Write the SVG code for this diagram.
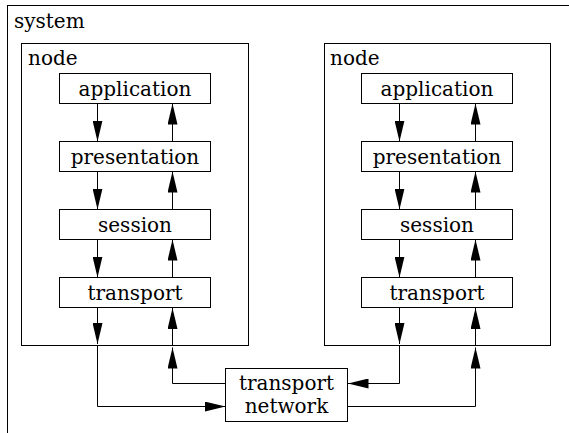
<svg xmlns="http://www.w3.org/2000/svg" width="569" height="433" viewBox="0 0 569 433">
<style>
.box{fill:#fff;stroke:#000;stroke-width:1}
.frame{fill:none;stroke:#000;stroke-width:1}
text{font-family:"DejaVu Serif",serif;font-size:20px;fill:#000}
.c{text-anchor:middle}
.e{fill:none;stroke:#000;stroke-width:1;marker-end:url(#ah)}
</style>
<defs>
<marker id="ah" viewBox="0 0 21 10" refX="21" refY="5" markerWidth="21" markerHeight="10" markerUnits="userSpaceOnUse" orient="auto">
<path d="M0,0 L21,5 L0,10 Z" fill="#000"/>
</marker>
</defs>
<rect width="569" height="433" fill="#fff"/>
<g id="system">
<rect class="frame" x="7.5" y="5.5" width="580" height="450"/>
<text x="14" y="28">system</text>
</g>
<g id="node-left">
<rect class="frame" x="21.5" y="43.5" width="227" height="302"/>
<text x="28" y="65">node</text>
</g>
<g id="node-right">
<rect class="frame" x="324.5" y="43.5" width="226" height="302"/>
<text x="330" y="65">node</text>
</g>
<g id="left-application"><rect class="box" x="59.5" y="73.5" width="151" height="30"/><text class="c" x="135" y="96">application</text></g>
<g id="left-presentation"><rect class="box" x="59.5" y="141.5" width="151" height="30"/><text class="c" x="135" y="164">presentation</text></g>
<g id="left-session"><rect class="box" x="59.5" y="209.5" width="151" height="30"/><text class="c" x="135" y="232">session</text></g>
<g id="left-transport"><rect class="box" x="59.5" y="277.5" width="151" height="30"/><text class="c" x="135" y="300">transport</text></g>
<g id="right-application"><rect class="box" x="361.5" y="73.5" width="151" height="30"/><text class="c" x="437" y="96">application</text></g>
<g id="right-presentation"><rect class="box" x="361.5" y="141.5" width="151" height="30"/><text class="c" x="437" y="164">presentation</text></g>
<g id="right-session"><rect class="box" x="361.5" y="209.5" width="151" height="30"/><text class="c" x="437" y="232">session</text></g>
<g id="right-transport"><rect class="box" x="361.5" y="277.5" width="151" height="30"/><text class="c" x="437" y="300">transport</text></g>
<g id="transport-network"><rect class="box" x="225.5" y="368.5" width="122" height="53"/><text class="c" x="286.5" y="390">transport</text><text class="c" x="286.5" y="413">network</text></g>
<g id="connectors">
<path class="e" d="M97.5 103.5V141.5"/>
<path class="e" d="M172.5 141.5V103.5"/>
<path class="e" d="M97.5 171.5V209.5"/>
<path class="e" d="M172.5 209.5V171.5"/>
<path class="e" d="M97.5 239.5V277.5"/>
<path class="e" d="M172.5 277.5V239.5"/>
<path class="e" d="M97.5 307.5V344"/>
<path class="e" d="M97.5 345.5V406.5H225.5"/>
<path class="e" d="M225.5 383.5H172.5V347.5"/>
<path class="e" d="M172.5 345.5V308"/>
<path class="e" d="M399.5 103.5V141.5"/>
<path class="e" d="M475.5 141.5V103.5"/>
<path class="e" d="M399.5 171.5V209.5"/>
<path class="e" d="M475.5 209.5V171.5"/>
<path class="e" d="M399.5 239.5V277.5"/>
<path class="e" d="M475.5 277.5V239.5"/>
<path class="e" d="M399.5 307.5V344"/>
<path class="e" d="M399.5 345.5V383.5H347.5"/>
<path class="e" d="M347.5 406.5H475.5V347.5"/>
<path class="e" d="M475.5 345.5V308"/>
</g>
</svg>
